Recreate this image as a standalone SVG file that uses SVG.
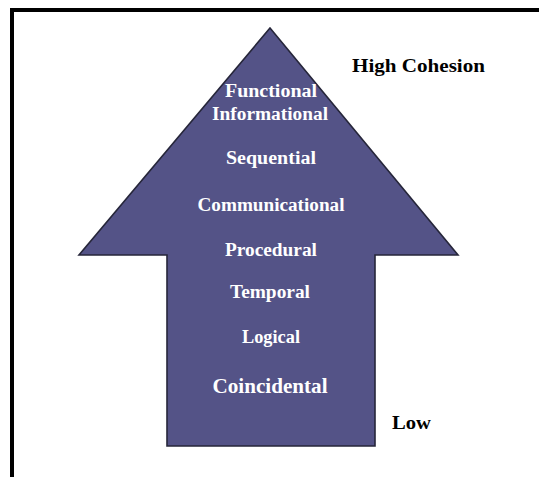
<svg xmlns="http://www.w3.org/2000/svg" width="539" height="477" viewBox="0 0 539 477">
<style>
.lvl{font-family:"Liberation Serif","Times New Roman",serif;font-weight:bold;fill:#ffffff;text-anchor:middle;font-size:18px}
.lab{font-family:"Liberation Serif","Times New Roman",serif;font-weight:bold;fill:#000000;font-size:19px}
</style>
<rect x="0" y="0" width="539" height="477" fill="#ffffff"/>
<g id="frame">
<rect x="10" y="8" width="529" height="4" fill="#000"/>
<rect x="10" y="8" width="4" height="469" fill="#000"/>
</g>
<g id="arrow">
<polygon points="270,28 458,255 375,255 375,446 167,446 167,255 79,255" fill="#545387" stroke="#26263a" stroke-width="1.6" stroke-linejoin="miter"/>
</g>
<g id="levels">
<text class="lvl" x="271" y="97" textLength="92" lengthAdjust="spacingAndGlyphs">Functional</text>
<text class="lvl" x="270" y="120" textLength="116" lengthAdjust="spacingAndGlyphs">Informational</text>
<text class="lvl" x="271" y="164" textLength="90" lengthAdjust="spacingAndGlyphs">Sequential</text>
<text class="lvl" x="271" y="211" textLength="147" lengthAdjust="spacingAndGlyphs">Communicational</text>
<text class="lvl" x="271" y="256" textLength="92" lengthAdjust="spacingAndGlyphs">Procedural</text>
<text class="lvl" x="270" y="298" textLength="80" lengthAdjust="spacingAndGlyphs">Temporal</text>
<text class="lvl" x="271" y="343" textLength="58" lengthAdjust="spacingAndGlyphs">Logical</text>
<text class="lvl" x="270" y="393" font-size="21" textLength="115" lengthAdjust="spacingAndGlyphs" style="font-size:21px">Coincidental</text>
</g>
<g id="labels">
<text class="lab" x="352" y="72" textLength="133" lengthAdjust="spacingAndGlyphs">High Cohesion</text>
<text class="lab" x="392" y="429" textLength="39" lengthAdjust="spacingAndGlyphs">Low</text>
</g>
</svg>
